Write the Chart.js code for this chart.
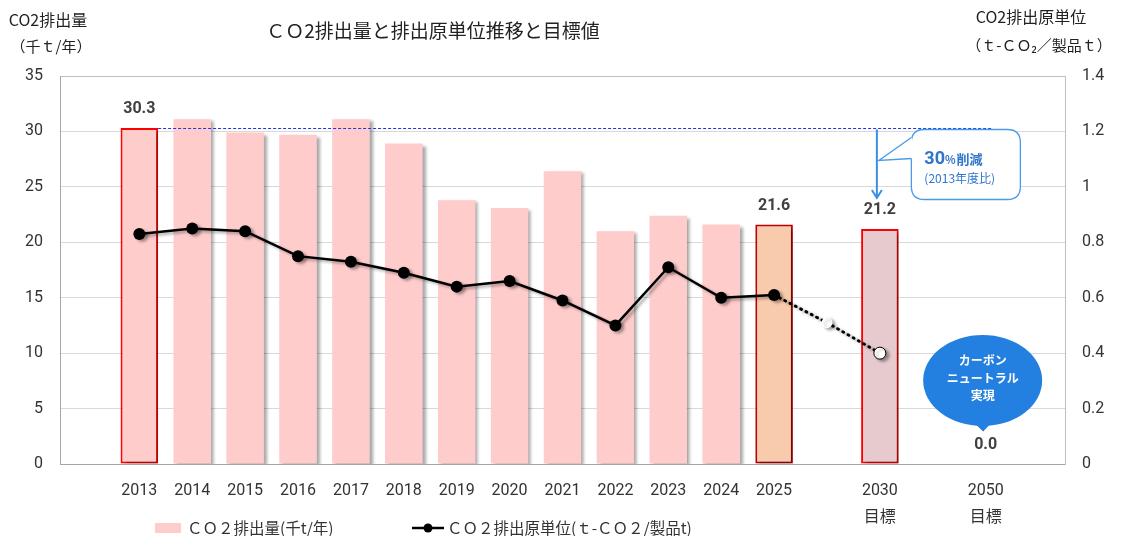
<!DOCTYPE html>
<html>
<head>
<meta charset="utf-8">
<script src="https://cdn.jsdelivr.net/npm/chart.js@4.4.1/dist/chart.umd.min.js"></script>
<style>
  body { margin: 0; background: #fff; }
  #wrap { width: 1122px; height: 536px; }
</style>
</head>
<body>
<div id="wrap"><canvas id="co2Chart" width="1122" height="536"></canvas></div>
<script>
// categories (blank slots keep the gaps between 2025 / 2030 / 2050)
const categories = ["", "2013", "2014", "2015", "2016", "2017", "2018", "2019", "2020",
  "2021", "2022", "2023", "2024", "2025", "", ["2030", "目標"], "", ["2050", "目標"], ""];

// CO2 emissions (thousand t / year)
const emissions = [null, 30.3, 31.1, 29.9, 29.7, 31.1, 28.9, 23.8, 23.1, 26.4, 21.0,
  22.4, 21.6, 21.6, null, 21.2, null, 0.0, null];

// CO2 intensity (t-CO2 / product t)
const intensity = [null, 0.83, 0.85, 0.84, 0.75, 0.73, 0.69, 0.64, 0.66, 0.59, 0.50,
  0.71, 0.60, 0.61, null, null, null, null, null];

// dotted projection 2025 -> 2030 target
const intensityTarget = [null, null, null, null, null, null, null, null, null, null, null,
  null, null, 0.61, 0.51, 0.40, null, null, null];

const labelledBars = [1, 13, 15, 17];
const baseValue = 30.3;

const leftTitle = ["CO2排出量", "（千ｔ/年）"];
const rightTitle = ["CO2排出原単位", "（ｔ-ＣＯ₂／製品ｔ）"];
const legendLabels = ["ＣＯ２排出量(千t/年)", "ＣＯ２排出原単位(ｔ-ＣＯ２/製品t)"];

const FONT = '"Noto Sans CJK JP", "Noto Sans", sans-serif';
const NUMFONT = 'Roboto, "Noto Sans CJK JP", sans-serif';

const barFill = categories.map((c, i) => {
  if (i === 13) return "#F8CBAD";
  if (i === 15) return "#E6CACD";
  return "#FFCCCC";
});
const barBorder = categories.map((c, i) => {
  if (i === 13) return "#C00000";
  if (i === 1 || i === 15) return "#FF0000";
  return "rgba(0,0,0,0)";
});
const barBorderWidth = categories.map((c, i) => (i === 1 || i === 13 || i === 15 ? 2 : 0));

const roundRect = (ctx, x, y, w, h, r) => {
  ctx.moveTo(x + r, y);
  ctx.lineTo(x + w - r, y);
  ctx.quadraticCurveTo(x + w, y, x + w, y + r);
  ctx.lineTo(x + w, y + h - r);
  ctx.quadraticCurveTo(x + w, y + h, x + w - r, y + h);
  ctx.lineTo(x + r, y + h);
  ctx.quadraticCurveTo(x, y + h, x, y + h - r);
  ctx.lineTo(x, y + r);
  ctx.quadraticCurveTo(x, y, x + r, y);
};

const shadowPlugin = {
  id: "shadow",
  beforeDatasetsDraw(chart) {
    const ctx = chart.ctx;
    ctx.save();
    ctx.shadowColor = "rgba(0,0,0,0.35)";
    ctx.shadowBlur = 3;
    ctx.shadowOffsetX = 3;
    ctx.shadowOffsetY = 2;
  },
  afterDatasetsDraw(chart) {
    chart.ctx.restore();
  },
};

const extrasPlugin = {
  id: "extras",
  afterDraw(chart) {
    const ctx = chart.ctx;
    const x = chart.scales.x;
    const y = chart.scales.y;
    const bars = chart.getDatasetMeta(0).data;

    ctx.save();
    // title and axis titles
    ctx.fillStyle = "#222";
    ctx.textAlign = "center";
    ctx.textBaseline = "middle";
    ctx.font = "19px " + FONT;
    ctx.fillText("ＣＯ2排出量と排出原単位推移と目標値", 433, 31);
    ctx.font = "16px " + FONT;
    ctx.fillText(leftTitle[0], 48, 20);
    ctx.fillText(rightTitle[0], 1031, 17);
    ctx.font = "15px " + FONT;
    ctx.fillText(leftTitle[1], 51, 46);
    ctx.fillText(rightTitle[1], 1039, 45);

    // bar value labels
    ctx.fillStyle = "#404040";
    ctx.font = "bold 16px " + NUMFONT;
    labelledBars.forEach((i) => {
      ctx.fillText(emissions[i].toFixed(1), bars[i].x, bars[i].y - 19);
    });

    // 2013 reference line
    const yBase = Math.round(y.getPixelForValue(baseValue)) + 0.5;
    const x2013 = bars[1].x + bars[1].width / 2;
    const x2050 = x.getPixelForValue(17);
    ctx.strokeStyle = "#2233EE";
    ctx.lineWidth = 1;
    ctx.setLineDash([3, 2]);
    ctx.beginPath();
    ctx.moveTo(x2013, yBase);
    ctx.lineTo(x2050 + 6, yBase);
    ctx.stroke();
    ctx.setLineDash([]);

    // arrow down to the 2030 target
    const ax = x.getPixelForValue(15) - 3;
    const tipY = bars[15].y - 31;
    ctx.strokeStyle = "#3A8EE6";
    ctx.lineWidth = 2;
    ctx.beginPath();
    ctx.moveTo(ax, yBase + 1);
    ctx.lineTo(ax, tipY);
    ctx.moveTo(ax - 5, tipY - 8);
    ctx.lineTo(ax, tipY);
    ctx.lineTo(ax + 5, tipY - 8);
    ctx.stroke();

    // callout "30%削減"
    const bx = ax + 34.5, by = yBase + 1, bw = 109, bh = 70;
    ctx.beginPath();
    roundRect(ctx, bx, by, bw, bh, 13);
    ctx.fillStyle = "#fff";
    ctx.fill();
    ctx.strokeStyle = "#4A9BE8";
    ctx.lineWidth = 1.3;
    ctx.stroke();
    ctx.beginPath();
    ctx.moveTo(bx + 0.8, by + 8);
    ctx.lineTo(ax + 2, by + 31);
    ctx.lineTo(bx + 0.8, by + 29);
    ctx.closePath();
    ctx.fillStyle = "#fff";
    ctx.fill();
    ctx.beginPath();
    ctx.moveTo(bx, by + 8);
    ctx.lineTo(ax + 2, by + 31);
    ctx.lineTo(bx, by + 29);
    ctx.stroke();

    ctx.fillStyle = "#2F75CC";
    ctx.textAlign = "left";
    ctx.textBaseline = "alphabetic";
    ctx.font = "bold 18px " + NUMFONT;
    ctx.fillText("30", bx + 13, by + 34);
    let w30 = ctx.measureText("30").width;
    ctx.font = "bold 11px " + FONT;
    ctx.fillText("%", bx + 13 + w30, by + 34);
    let wp = ctx.measureText("%").width;
    ctx.font = "bold 13px " + FONT;
    ctx.fillText("削減", bx + 13 + w30 + wp + 1, by + 34);
    ctx.font = "12px " + FONT;
    ctx.textBaseline = "middle";
    ctx.fillText("(2013年度比)", bx + 13, by + 49);

    // carbon neutral bubble
    const cx = x2050 - 3, cy = y.getPixelForValue(0) - 83.5;
    ctx.fillStyle = "#2480E0";
    ctx.beginPath();
    ctx.ellipse(cx, cy, 59.5, 45.5, 0, 0, Math.PI * 2);
    ctx.fill();
    ctx.beginPath();
    ctx.moveTo(cx - 11, cy + 40);
    ctx.lineTo(cx + 0.5, cy + 51);
    ctx.lineTo(cx + 11, cy + 40);
    ctx.closePath();
    ctx.fill();
    ctx.fillStyle = "#fff";
    ctx.textAlign = "center";
    ctx.font = "bold 12px " + FONT;
    ctx.fillText("カーボン", cx, cy - 20.5);
    ctx.fillText("ニュートラル", cx, cy - 2.5);
    ctx.fillText("実現", cx, cy + 14.5);

    // legend
    ctx.fillStyle = "#FFCCCC";
    ctx.fillRect(155, 523, 26, 10);
    ctx.fillStyle = "#333";
    ctx.textAlign = "left";
    ctx.font = "15.5px " + FONT;
    ctx.fillText(legendLabels[0], 187, 528);
    ctx.strokeStyle = "#000";
    ctx.lineWidth = 2.5;
    ctx.beginPath();
    ctx.moveTo(412, 528);
    ctx.lineTo(444, 528);
    ctx.stroke();
    ctx.fillStyle = "#000";
    ctx.beginPath();
    ctx.arc(428, 528, 4.5, 0, Math.PI * 2);
    ctx.fill();
    ctx.fillStyle = "#333";
    ctx.fillText(legendLabels[1], 447, 528);
    ctx.restore();
  },
};

const co2Chart = new Chart(document.querySelector("#co2Chart"), {
  data: {
    labels: categories,
    datasets: [
      {
        type: "bar",
        label: legendLabels[0],
        data: emissions,
        yAxisID: "y",
        backgroundColor: barFill,
        borderColor: barBorder,
        borderWidth: barBorderWidth,
        borderSkipped: false,
        categoryPercentage: 1,
        barPercentage: 0.71,
        order: 2,
      },
      {
        type: "line",
        label: legendLabels[1],
        data: intensity,
        yAxisID: "y1",
        borderColor: "#000",
        backgroundColor: "#000",
        borderWidth: 2.5,
        pointRadius: 6,
        pointBorderWidth: 0,
        pointHoverRadius: 6,
        tension: 0,
        order: 0,
      },
      {
        type: "line",
        label: "target",
        data: intensityTarget,
        yAxisID: "y1",
        borderColor: "#000",
        borderWidth: 3,
        borderDash: [1, 5],
        borderCapStyle: "round",
        pointRadius: [0, 0, 0, 0, 0, 0, 0, 0, 0, 0, 0, 0, 0, 0, 5, 6, 0, 0, 0],
        pointBackgroundColor: "#fff",
        pointBorderColor: ["#000", "#000", "#000", "#000", "#000", "#000", "#000", "#000",
          "#000", "#000", "#000", "#000", "#000", "#000", "#fff", "#000", "#000", "#000", "#000"],
        pointBorderWidth: 1,
        tension: 0,
        order: 1,
      },
    ],
  },
  options: {
    responsive: false,
    animation: false,
    layout: { padding: { top: 76, left: 0, right: 0, bottom: 0 } },
    plugins: {
      legend: { display: false },
      tooltip: { enabled: false },
      title: { display: false },
    },
    scales: {
      x: {
        offset: true,
        grid: { display: false, drawTicks: false },
        border: { color: "#A6A6A6" },
        ticks: {
          padding: 13,
          color: "#333",
          font: { size: 16, family: NUMFONT, lineHeight: 1.7 },
          maxRotation: 0,
          autoSkip: false,
        },
        afterFit: (s) => { s.height = 72; },
      },
      y: {
        position: "left",
        min: 0,
        max: 35,
        ticks: { stepSize: 5, padding: 17, color: "#333", font: { size: 16, family: NUMFONT } },
        grid: {
          drawTicks: false,
          color: (c) => (c.tick.value === 35 ? "#BFBFBF" : "#D9D9D9"),
        },
        border: { color: "#A6A6A6" },
        afterFit: (s) => { s.width = 60; },
      },
      y1: {
        position: "right",
        min: 0,
        max: 1.4,
        ticks: {
          stepSize: 0.2,
          padding: 17,
          color: "#333",
          font: { size: 16, family: NUMFONT },
          callback: (v) => String(+v.toFixed(1)),
        },
        grid: { drawOnChartArea: false, drawTicks: false },
        border: { color: "#BFBFBF" },
        afterFit: (s) => { s.width = 57; },
      },
    },
  },
  plugins: [shadowPlugin, extrasPlugin],
});
</script>
</body>
</html>
